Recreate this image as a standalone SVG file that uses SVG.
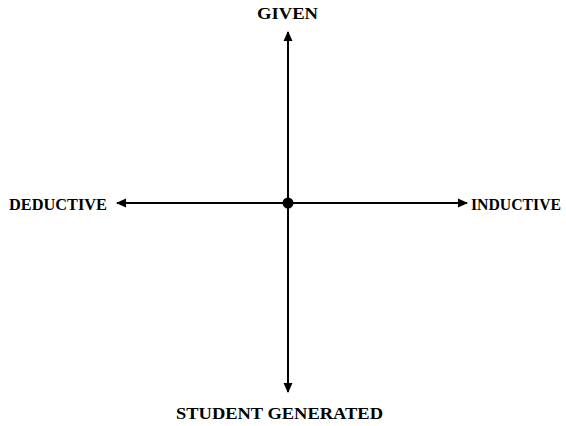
<svg xmlns="http://www.w3.org/2000/svg" width="566" height="426" viewBox="0 0 566 426">
<style>
.lbl{font-family:"Liberation Serif","Times New Roman",serif;font-weight:bold;font-size:17.5px;fill:#000}
.ax{stroke:#000;stroke-width:2;fill:none}
</style>
<defs>
<marker id="ah" markerWidth="10" markerHeight="10" refX="9" refY="5" orient="auto" markerUnits="userSpaceOnUse">
<path d="M0,0.5 L10,5 L0,9.5 Z" fill="#000"/>
</marker>
</defs>
<rect width="566" height="426" fill="#fff"/>
<g id="connectors">
<line class="ax" x1="288" y1="203" x2="288" y2="32" marker-end="url(#ah)"/>
<line class="ax" x1="288" y1="203" x2="288" y2="392" marker-end="url(#ah)"/>
<line class="ax" x1="288" y1="203" x2="117" y2="203" marker-end="url(#ah)"/>
<line class="ax" x1="288" y1="203" x2="467" y2="203" marker-end="url(#ah)"/>
</g>
<g id="origin"><circle cx="288" cy="203" r="5.5" fill="#000"/></g>
<g id="given"><text class="lbl" x="257" y="19" textLength="61" lengthAdjust="spacingAndGlyphs">GIVEN</text></g>
<g id="deductive"><text class="lbl" x="9" y="210" textLength="98" lengthAdjust="spacingAndGlyphs">DEDUCTIVE</text></g>
<g id="inductive"><text class="lbl" x="471" y="210" style="font-size:16px" textLength="90" lengthAdjust="spacingAndGlyphs">INDUCTIVE</text></g>
<g id="student"><text class="lbl" x="176" y="419" textLength="207" lengthAdjust="spacingAndGlyphs">STUDENT GENERATED</text></g>
</svg>
